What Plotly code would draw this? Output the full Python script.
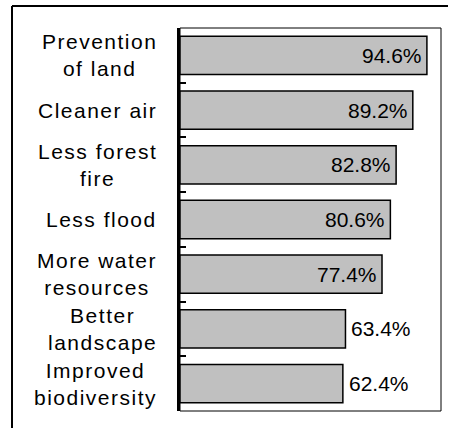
import plotly.graph_objects as go

# Survey results: perceived benefits of afforestation
categories = [
    "Prevention<br>of land",
    "Cleaner air",
    "Less forest<br>fire",
    "Less flood",
    "More water<br>resources",
    "Better<br>landscape",
    "Improved<br>biodiversity",
]
values = [94.6, 89.2, 82.8, 80.6, 77.4, 63.4, 62.4]
label_inside = [True, True, True, True, True, False, False]

W, H = 449, 429
L, R, T, B = 180, 441, 28, 411  # plot area edges in pixels


def px_x(p):
    return (p - L) / (R - L)


def px_y(p):
    return (B - p) / (B - T)


def spaced(label, sp=1.5):
    return "<br>".join(
        f"<span style='letter-spacing:{sp}px'>{part}</span>" for part in label.split("<br>")
    )


font_family = "Liberation Sans, Arial, sans-serif"

fig = go.Figure(
    go.Bar(
        y=categories,
        x=values,
        orientation="h",
        width=0.7,
        marker=dict(color="#C0C0C0", line=dict(color="black", width=1.5)),
        hoverinfo="skip",
    )
)

# category labels, lines centred, block right-aligned to the axis
annotations = [
    dict(
        x=0, xref="paper", y=cat, yref="y",
        text=spaced(cat), showarrow=False,
        xanchor="right", yanchor="middle", align="center", xshift=-21,
        font=dict(family=font_family, size=21, color="black"),
    )
    for cat in categories
]

# value labels at the end of each bar
for cat, v, inside in zip(categories, values, label_inside):
    annotations.append(
        dict(
            x=v, xref="x", y=cat, yref="y",
            text=f"{v:.1f}%",
            showarrow=False,
            xanchor="right" if inside else "left",
            xshift=-3 if inside else 4,
            yanchor="middle",
            font=dict(family=font_family, size=21, color="black"),
        )
    )

shapes = [
    # plot area frame
    dict(type="rect", xref="paper", yref="paper", x0=0, x1=1, y0=0, y1=1,
         line=dict(color="black", width=1), layer="below"),
    # outer chart frame (top and left edges)
    dict(type="line", xref="paper", yref="paper",
         x0=px_x(12), x1=px_x(W - 1), y0=px_y(6), y1=px_y(6),
         line=dict(color="black", width=2), layer="below"),
    dict(type="line", xref="paper", yref="paper",
         x0=px_x(12), x1=px_x(12), y0=px_y(6), y1=px_y(H - 1),
         line=dict(color="black", width=2), layer="below"),
]

fig.update_layout(
    width=W, height=H,
    margin=dict(l=L, r=W - R, t=T, b=H - B, pad=0),
    paper_bgcolor="white", plot_bgcolor="white",
    showlegend=False,
    annotations=annotations,
    shapes=shapes,
    xaxis=dict(range=[0, 100], visible=False, fixedrange=True),
    yaxis=dict(
        type="category",
        categoryorder="array", categoryarray=categories,
        autorange="reversed",
        showticklabels=False,
        showgrid=False, zeroline=False,
        showline=True, linecolor="black", linewidth=2.5,
        ticks="inside", tickson="boundaries", ticklen=6, tickcolor="black", tickwidth=1.5,
        fixedrange=True,
    ),
    font=dict(family=font_family, color="black"),
)

fig.write_html("out.html")
